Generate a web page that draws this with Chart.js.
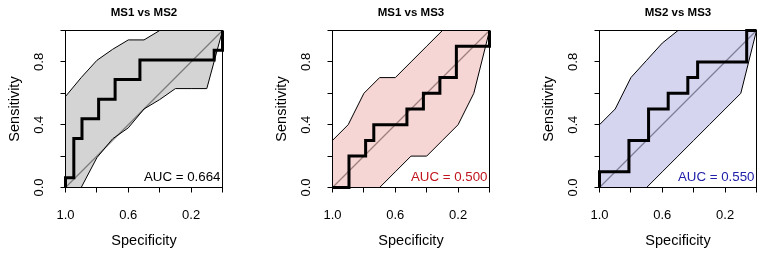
<!DOCTYPE html>
<html><head><meta charset="utf-8">
<script src="https://cdn.jsdelivr.net/npm/chart.js@4.4.1/dist/chart.umd.min.js"></script>
<style>
html,body{margin:0;padding:0;background:#fff;}
#wrap{position:relative;width:766px;height:254px;overflow:hidden;background:#fff;}
.p{position:absolute;top:0;width:232px;height:254px;}
canvas{display:block;}
</style></head><body>
<div id="wrap">
<div class="p" style="left:0px"><canvas id="c0" width="232" height="254"></canvas></div>
<div class="p" style="left:267px"><canvas id="c1" width="232" height="254"></canvas></div>
<div class="p" style="left:534px"><canvas id="c2" width="232" height="254"></canvas></div>
</div>
<script>
// ---- data ----
const panelTitles = ['MS1 vs MS2', 'MS1 vs MS3', 'MS2 vs MS3'];
const aucLabels = ['AUC = 0.664', 'AUC = 0.500', 'AUC = 0.550'];
const xTitle = 'Specificity';
const yTitle = 'Sensitivity';
const xTickLabels = ['1.0', '0.6', '0.2'];
const yTickLabels = ['0.0', '0.4', '0.8'];

// ROC step curves (specificity, sensitivity corner points)
const rocSpec1 = [1, 1, 0.947, 0.947, 0.895, 0.895, 0.789, 0.789, 0.684, 0.684, 0.526, 0.526, 0.053, 0.053, 0, 0];
const rocSens1 = [0, 0.0625, 0.0625, 0.3125, 0.3125, 0.4375, 0.4375, 0.5625, 0.5625, 0.6875, 0.6875, 0.8125, 0.8125, 0.875, 0.875, 1];
const rocSpec2 = [1, 0.895, 0.895, 0.789, 0.789, 0.737, 0.737, 0.526, 0.526, 0.421, 0.421, 0.316, 0.316, 0.211, 0.211, 0, 0];
const rocSens2 = [0, 0, 0.2, 0.2, 0.3, 0.3, 0.4, 0.4, 0.5, 0.5, 0.6, 0.6, 0.7, 0.7, 0.9, 0.9, 1];
const rocSpec3 = [1, 1, 0.8125, 0.8125, 0.6875, 0.6875, 0.5625, 0.5625, 0.4375, 0.4375, 0.375, 0.375, 0.0625, 0.0625, 0];
const rocSens3 = [0, 0.1, 0.1, 0.3, 0.3, 0.5, 0.5, 0.6, 0.6, 0.7, 0.7, 0.8, 0.8, 1, 1];

// confidence band of sensitivity at fixed specificities
const ciSpec = [1.0, 0.9, 0.8, 0.7, 0.6, 0.5, 0.4, 0.3, 0.2, 0.1, 0.0];
const ciUpper1 = [0.58, 0.70, 0.81, 0.88, 0.94, 0.94, 1, 1, 1, 1, 1];
const ciLower1 = [0, 0, 0.19, 0.31, 0.38, 0.50, 0.56, 0.63, 0.63, 0.63, 1];
const ciUpper2 = [0.30, 0.40, 0.60, 0.70, 0.70, 0.80, 0.90, 1, 1, 1, 1];
const ciLower2 = [0, 0, 0, 0, 0.10, 0.20, 0.20, 0.30, 0.40, 0.60, 1];
const ciUpper3 = [0.40, 0.50, 0.70, 0.81, 0.92, 1, 1, 1, 1, 1, 1];
const ciLower3 = [0, 0, 0, 0, 0.10, 0.20, 0.30, 0.40, 0.50, 0.60, 1];

// chance diagonal
const diagSpec = [1, 0];
const diagSens = [0, 1];

// ---- styles ----
const FONT = '"Liberation Sans", Arial, Helvetica, sans-serif';
const bandColors = ['rgba(0,0,0,0.17)', 'rgba(205,30,30,0.19)', 'rgba(30,30,170,0.19)'];
const aucColors = ['#000000', '#c0141e', '#2020a8'];

const rocSpecs = [rocSpec1, rocSpec2, rocSpec3];
const rocSenss = [rocSens1, rocSens2, rocSens3];
const ciUppers = [ciUpper1, ciUpper2, ciUpper3];
const ciLowers = [ciLower1, ciLower2, ciLower3];

function toXY(xs, ys) { return xs.map((x, i) => ({x: x, y: ys[i]})); }

const boxPlugin = {
  id: 'box',
  afterDatasetsDraw(chart) {
    const {ctx, chartArea: a} = chart;
    const al = v => Math.round(v - 0.5) + 0.5;
    ctx.save();
    ctx.strokeStyle = '#000';
    ctx.lineWidth = 1;
    ctx.strokeRect(al(a.left), al(a.top), al(a.right) - al(a.left), al(a.bottom) - al(a.top));
    ctx.restore();
  }
};

const aucPlugin = {
  id: 'auc',
  afterDraw(chart, args, opts) {
    const {ctx, chartArea: a} = chart;
    ctx.save();
    ctx.font = '13.3px ' + FONT;
    ctx.fillStyle = opts.color;
    ctx.textAlign = 'right';
    ctx.textBaseline = 'alphabetic';
    ctx.fillText(opts.text, a.right - 2, a.bottom - 6.3);
    ctx.restore();
  }
};

function noPad(s) { s.paddingLeft = 0; s.paddingRight = 0; s.paddingTop = 0; s.paddingBottom = 0; }

function makeChart(i) {
  const tickFont = {family: FONT, size: 13};
  const titleFont = {family: FONT, size: 14.5};
  new Chart(document.getElementById('c' + i), {
    type: 'line',
    data: {
      datasets: [
        {label: 'ROC', data: toXY(rocSpecs[i], rocSenss[i]), borderColor: '#000', borderWidth: 3,
         pointRadius: 0, fill: false, tension: 0, clip: false, borderJoinStyle: 'miter', borderCapStyle: 'butt'},
        {label: 'lower', data: toXY(ciSpec, ciLowers[i]), borderColor: '#000', borderWidth: 1,
         pointRadius: 0, fill: false, tension: 0},
        {label: 'upper', data: toXY(ciSpec, ciUppers[i]), borderColor: '#000', borderWidth: 1,
         pointRadius: 0, fill: 1, backgroundColor: bandColors[i], tension: 0},
        {label: 'diag', data: toXY(diagSpec, diagSens), borderColor: '#959595', borderWidth: 1.2,
         pointRadius: 0, fill: false, tension: 0}
      ]
    },
    options: {
      responsive: false,
      animation: false,
      devicePixelRatio: 1,
      layout: {padding: {left: 0, top: 0, right: 9.5, bottom: 0}},
      plugins: {
        legend: {display: false},
        tooltip: {enabled: false},
        title: {display: true, text: panelTitles[i], color: '#000', fullSize: false,
                font: {family: FONT, size: 11.5, weight: 'bold'}, padding: {top: 5.8, bottom: 10.9}},
        auc: {text: aucLabels[i], color: aucColors[i]}
      },
      scales: {
        x: {
          type: 'linear', min: 0, max: 1, reverse: true, position: 'bottom',
          afterFit(s) { s.height = 66.5; noPad(s); },
          ticks: {stepSize: 0.2, autoSkip: false, maxRotation: 0, minRotation: 0, padding: 14.7,
                  color: '#000', font: tickFont,
                  callback(v) { const t = Number(v).toFixed(1); return xTickLabels.includes(t) ? t : ''; }},
          grid: {display: true, drawOnChartArea: false, drawTicks: true, tickLength: 5, color: '#000', lineWidth: 1},
          border: {display: true, color: '#000', width: 1},
          title: {display: true, text: xTitle, color: '#000', font: titleFont, padding: {top: 0, bottom: 4.3}}
        },
        y: {
          type: 'linear', min: 0, max: 1, position: 'left',
          afterFit(s) { s.width = 65.5; noPad(s); },
          ticks: {stepSize: 0.2, autoSkip: false, minRotation: 90, maxRotation: 90, crossAlign: 'center',
                  padding: 11.65, color: '#000', font: tickFont,
                  callback(v) { const t = Number(v).toFixed(1); return yTickLabels.includes(t) ? t : ''; }},
          grid: {display: true, drawOnChartArea: false, drawTicks: true, tickLength: 5, color: '#000', lineWidth: 1},
          border: {display: true, color: '#000', width: 1},
          title: {display: true, text: yTitle, color: '#000', font: titleFont, padding: {top: 6.7, bottom: 0}}
        }
      }
    },
    plugins: [boxPlugin, aucPlugin]
  });
}
[0, 1, 2].forEach(makeChart);
</script>
</body></html>
